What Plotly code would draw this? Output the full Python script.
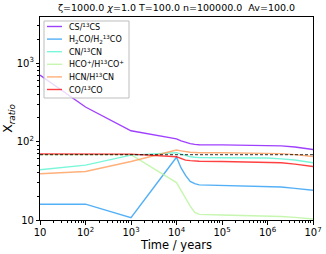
import plotly.graph_objects as go

times = [10, 100, 1000, 10000, 12600, 15800, 20000, 25100, 31600,
         100000, 316000, 1000000, 2000000, 4000000, 10000000]

cs_ratio = [700, 275, 137, 108, 102, 97, 94, 92, 91, 90.5, 90, 89.5, 88, 85, 79]
h2co_ratio = [15.9, 15.9, 10.7, 63, 46, 37, 31, 29, 28, 27.5, 27.3, 27, 26.3, 25.3, 23.9]
cn_ratio = [43.6, 50, 67, 72, 69, 66, 64, 63, 62.5, 62, 62, 61.5, 60, 58, 53.6]
hcop_ratio = [68, 68, 68, 30, 23.5, 18.5, 15, 12.5, 11.8, 11.6, 11.5, 11.4, 11.1, 10.8, 10.3]
hcn_ratio = [38.8, 41.5, 55.6, 78, 76, 74, 73, 72.5, 72, 72, 71.5, 71, 70, 68, 64.5]
co_ratio = [69.5, 69.5, 69, 64, 61, 58, 57, 56, 56, 55.5, 55, 54.5, 53.5, 51.5, 48]

elemental_ratio = 68
time_limits = [10, 10000000]

names = ["CS/<sup>13</sup>CS",
         "H<sub>2</sub>CO/H<sub>2</sub><sup>13</sup>CO",
         "CN/<sup>13</sup>CN",
         "HCO<sup>+</sup>/H<sup>13</sup>CO<sup>+</sup>",
         "HCN/H<sup>13</sup>CN",
         "CO/<sup>13</sup>CO"]
series = [cs_ratio, h2co_ratio, cn_ratio, hcop_ratio, hcn_ratio, co_ratio]
colors = ["rgba(128,0,255,0.75)", "rgba(26,150,243,0.75)", "rgba(77,243,206,0.75)",
          "rgba(179,243,150,0.75)", "rgba(255,150,79,0.75)", "rgba(255,0,0,0.75)"]

W, H = 326, 254
ML, MR, MT, MB = 40, 13, 17, 34
PW, PH = W - ML - MR, H - MT - MB


def px(x):
    return (x - ML) / PW


def py(y):
    return 1 - (y - MT) / PH


fig = go.Figure()
for name, vals, col in zip(names, series, colors):
    fig.add_trace(go.Scatter(x=times, y=vals, mode="lines", name=name, showlegend=False,
                             line=dict(color=col, width=1.4)))

fig.add_trace(go.Scatter(x=time_limits, y=[elemental_ratio, elemental_ratio], mode="lines",
                         showlegend=False,
                         line=dict(color="rgba(0,0,0,0.65)", width=1.2, dash="3px,2px")))

# legend box (drawn as layout shapes / annotations)
shapes = [dict(type="rect", xref="paper", yref="paper",
               x0=px(44), x1=px(129), y0=py(98), y1=py(21),
               line=dict(color="#bdbdbd", width=1), fillcolor="rgba(255,255,255,0.8)",
               layer="above")]
annotations = []
row0, gap = 26.5, 12.6
for i, (name, col) in enumerate(zip(names, colors)):
    yy = row0 + i * gap
    shapes.append(dict(type="line", xref="paper", yref="paper",
                       x0=px(47), x1=px(62), y0=py(yy), y1=py(yy),
                       line=dict(color=col, width=1.4), layer="above"))
    annotations.append(dict(xref="paper", yref="paper", x=px(67), y=py(yy),
                            text=name, showarrow=False, xanchor="left", yanchor="middle",
                            font=dict(family="DejaVu Sans", size=8, color="black")))

axis_common = dict(type="log", dtick=1, exponentformat="power", showgrid=False,
                   zeroline=False, showline=True, linecolor="black", linewidth=1,
                   mirror=True, ticks="outside", ticklen=3.5, tickwidth=0.8,
                   tickcolor="black", automargin=False,
                   tickfont=dict(family="DejaVu Sans", size=8, color="black"),
                   minor=dict(ticks="outside", ticklen=2, tickwidth=0.6,
                              tickcolor="black", showgrid=False))

fig.update_xaxes(**axis_common, range=[1, 7],
                 title=dict(text="Time / years", standoff=3,
                            font=dict(family="DejaVu Sans", size=11.5, color="black")))
fig.update_yaxes(**axis_common, range=[1, 3.586],
                 title=dict(text="X<sub><i>ratio</i></sub>", standoff=8,
                            font=dict(family="DejaVu Sans", size=12.5, color="black")))

fig.update_layout(
    width=W, height=H,
    margin=dict(l=ML, r=MR, t=MT, b=MB),
    paper_bgcolor="white", plot_bgcolor="white",
    title=dict(text="ζ=1000.0 <i>χ</i>=1.0 T=100.0 n=100000.0  Av=100.0",
               x=0.5, xref="paper", xanchor="center", y=1, yref="container",
               yanchor="top", pad=dict(t=4),
               font=dict(family="DejaVu Sans", size=9.5, color="black")),
    showlegend=False,
    shapes=shapes,
    annotations=annotations,
)

fig.write_html("out.html", config={"displayModeBar": False},
               post_script="document.body.style.margin='0';document.body.style.overflow='hidden';")
